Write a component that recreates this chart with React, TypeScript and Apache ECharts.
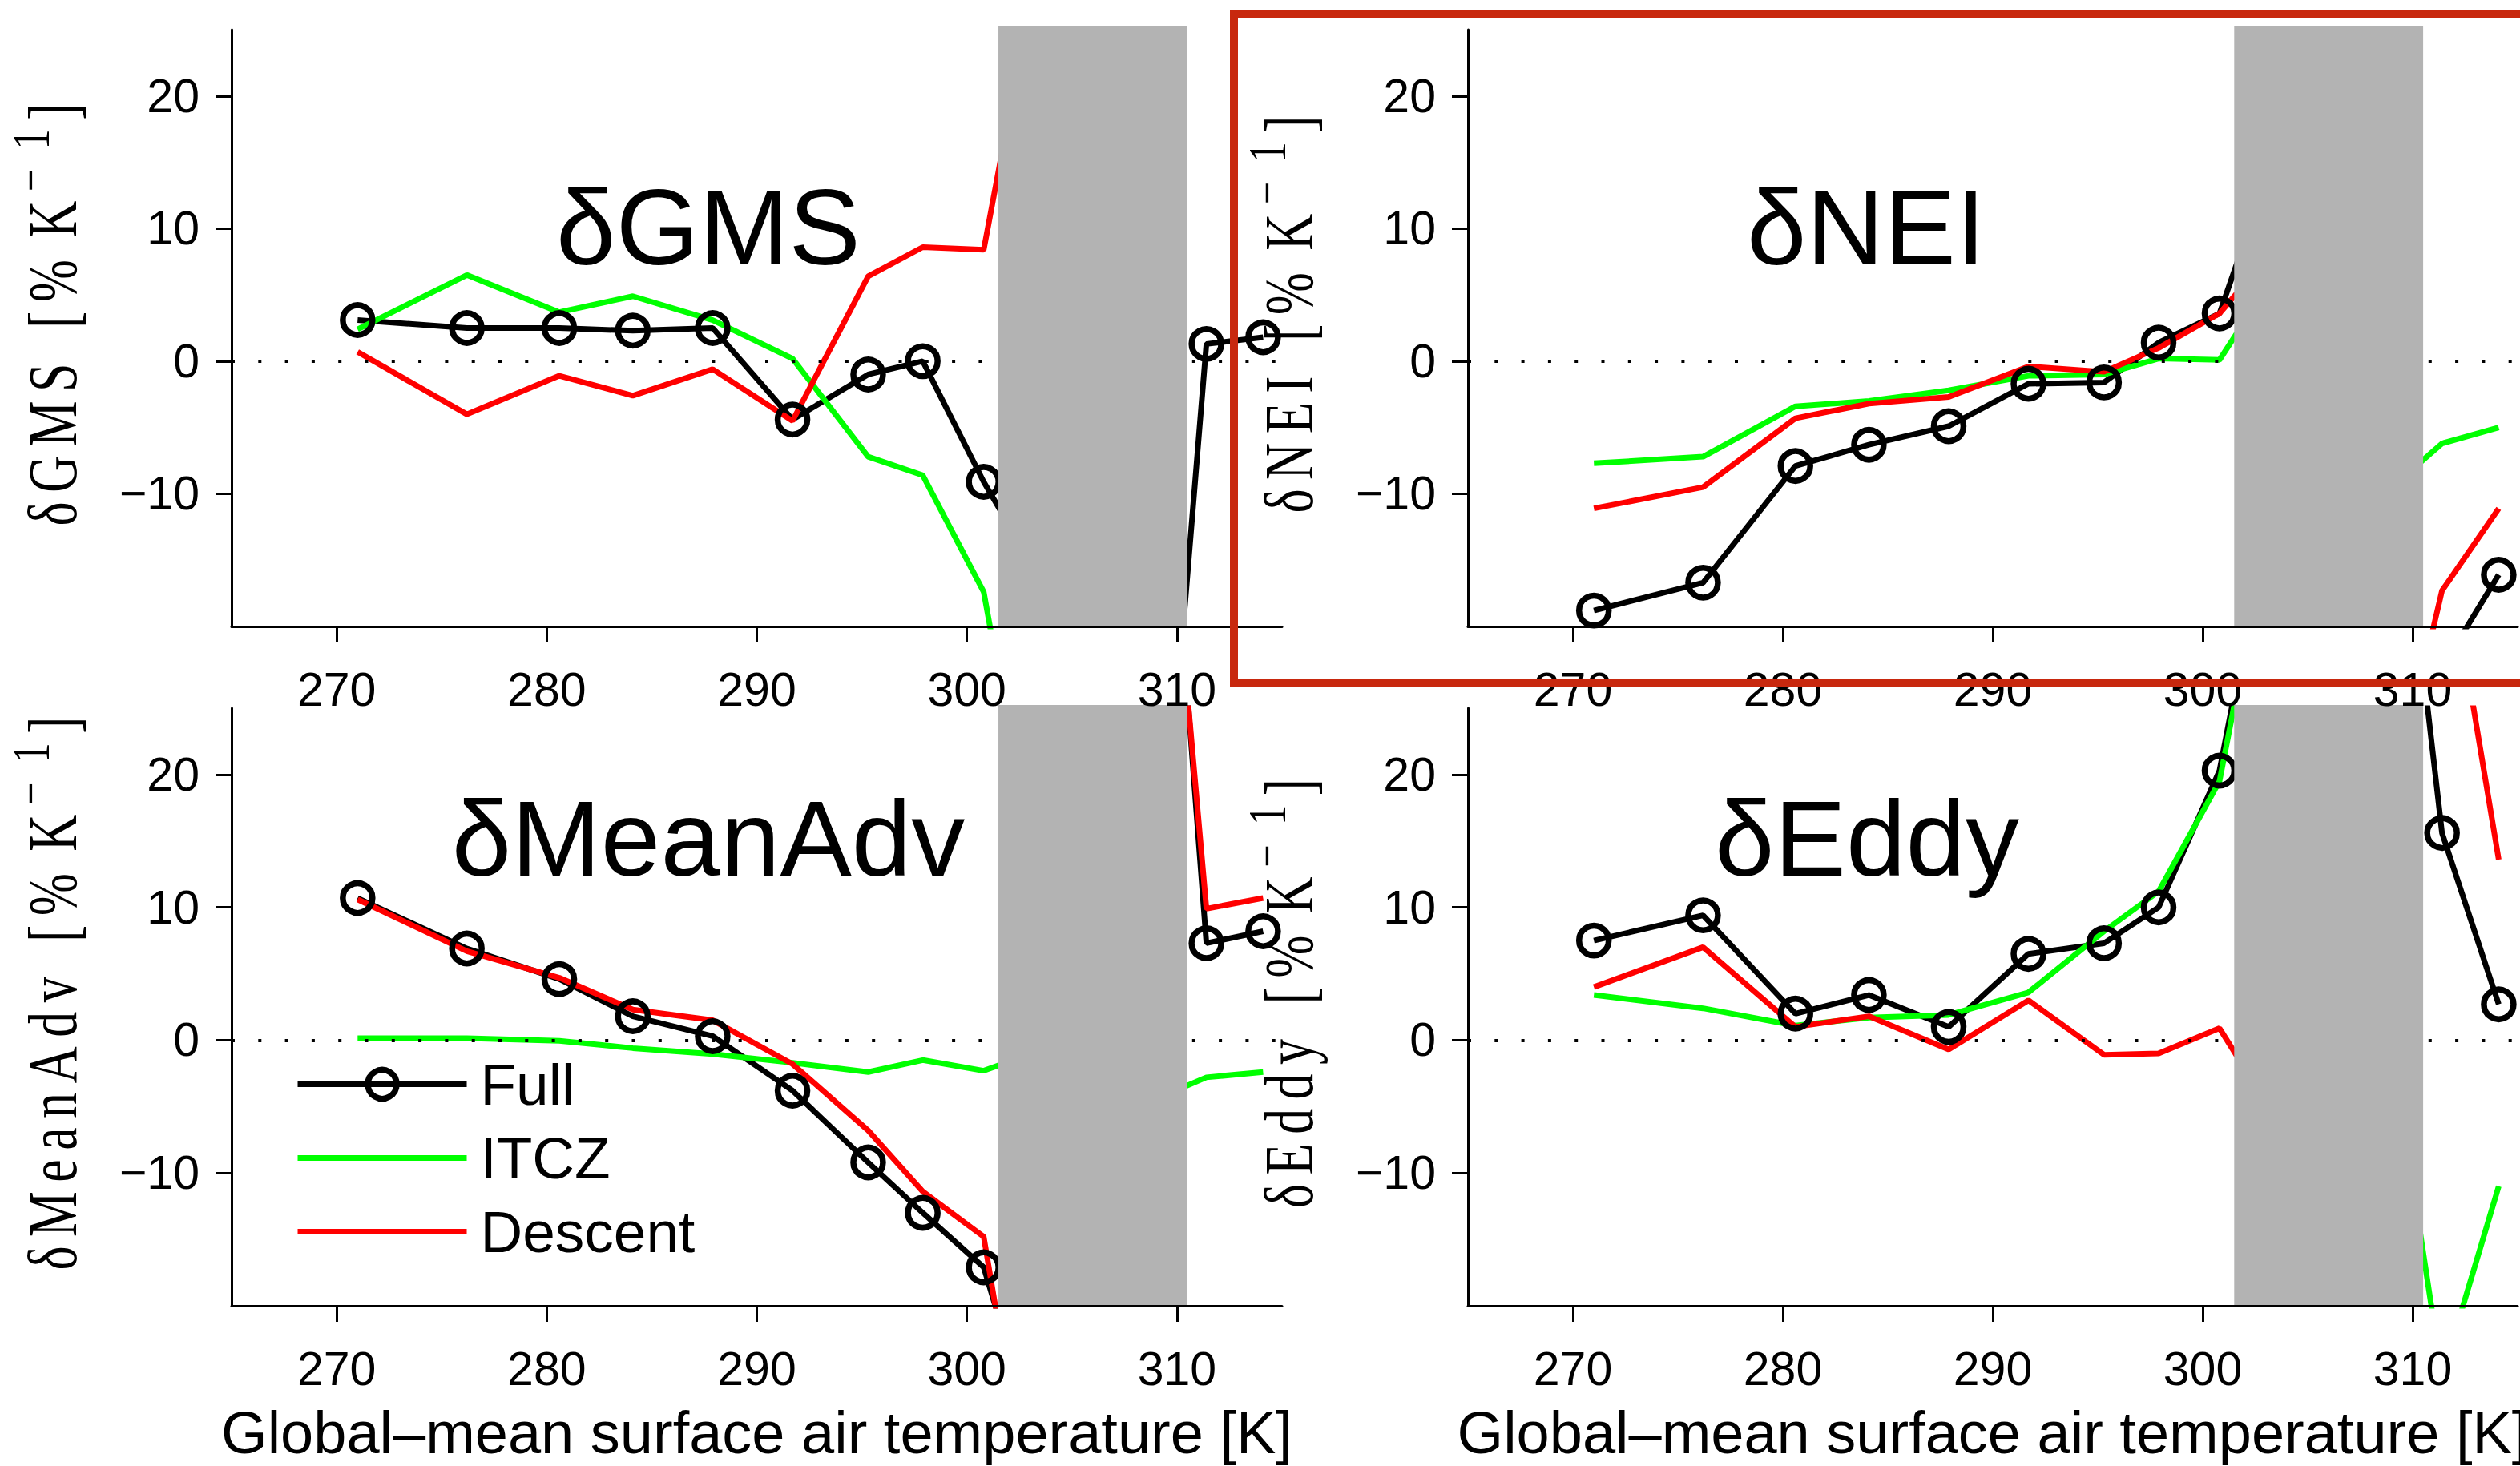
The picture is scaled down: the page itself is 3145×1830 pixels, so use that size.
import React, { useEffect, useRef } from "react";
import * as echarts from "echarts";

// Global-mean surface air temperature of each simulation [K]
const temperatureK = [271.0, 276.2, 280.6, 284.1, 287.9, 291.7, 295.3, 297.9, 300.8, 304.0, 308.0, 311.4, 314.1];

// Fractional changes [% K^-1]; null = no value
const gmsFull = [3.1, 2.5, 2.5, 2.3, 2.5, -4.4, -1.0, 0.0, -9.1, -17.8, -64.4, 1.3, 1.8];
const gmsItcz = [2.4, 6.5, 3.7, 4.9, 3.1, 0.2, -7.2, -8.6, -17.4, -45.3, null, null, null];
const gmsDescent = [0.7, -4.0, -1.1, -2.6, -0.6, -4.5, 6.4, 8.6, 8.4, 35.4, null, null, null];

const neiFull = [-18.8, -16.7, -7.9, -6.3, -4.9, -1.7, -1.6, 1.4, 3.6, 18.2, -30.0, -23.1, -16.1];
const neiItcz = [-7.7, -7.2, -3.4, -3.0, -2.2, -1.1, -1.0, 0.2, 0.1, 7.9, -10.9, -6.2, -5.0];
const neiDescent = [-11.1, -9.5, -4.3, -3.2, -2.7, -0.4, -0.8, 1.0, 3.6, 9.5, -40.3, -17.3, -11.1];

const meanAdvFull = [10.7, 6.9, 4.6, 1.8, 0.3, -3.8, -9.2, -13.0, -17.1, -34.0, 77.9, 7.3, 8.2];
const meanAdvItcz = [0.15, 0.15, -0.05, -0.6, -1.05, -1.7, -2.4, -1.5, -2.3, -0.5, -5.1, -2.8, -2.4];
const meanAdvDescent = [10.6, 6.7, 4.7, 2.3, 1.5, -1.8, -6.8, -11.4, -14.8, -45.0, 70.7, 9.9, 10.7];

const eddyFull = [7.5, 9.4, 2.0, 3.4, 1.0, 6.5, 7.3, 10.0, 20.3, 46.4, 62.4, 15.6, 2.7];
const eddyItcz = [3.4, 2.4, 1.1, 1.7, 1.9, 3.6, 8.2, 11.2, 19.5, 45.6, 10.0, -25.3, -11.0];
const eddyDescent = [4.0, 7.0, 1.0, 1.8, -0.7, 3.0, -1.1, -1.0, 0.9, -7.2, 45.0, 39.3, 13.6];

// Axis extents and tick labels
const xRange = [265, 315];
const yRange = [-20, 25];
const xTicks = [270, 280, 290, 300, 310];
const yTicks = [-10, 0, 10, 20];

// Temperature band masked in grey
const maskedBand = [301.5, 310.5];

const seriesNames = ["Full", "ITCZ", "Descent"];
const panelTerms = ["GMS", "NEI", "MeanAdv", "Eddy"];
const panelValues = [
  [gmsFull, gmsItcz, gmsDescent],
  [neiFull, neiItcz, neiDescent],
  [meanAdvFull, meanAdvItcz, meanAdvDescent],
  [eddyFull, eddyItcz, eddyDescent],
];

const SANS = "'Liberation Sans', Arial, Helvetica, sans-serif";
const SERIF = "'Liberation Serif', 'Times New Roman', serif";
const GREEN = "#00ff00";
const RED = "#ff0000";
const GREY = "#b3b3b3";

const grids = [
  { left: 289, top: 37, width: 1311, height: 745 },
  { left: 1832, top: 37, width: 1310, height: 745 },
  { left: 289, top: 884, width: 1311, height: 746 },
  { left: 1832, top: 884, width: 1310, height: 746 },
];
const titleCenters = [
  [884, 283],
  [2329, 283],
  [884, 1046],
  [2330, 1046],
];

const minusFmt = (v: number) => (v < 0 ? "\u2212" + Math.abs(v) : String(v));

function pairs(values: (number | null)[]) {
  return temperatureK.map((t, i) => [t, values[i] === null ? "-" : values[i]]);
}

// y-axis label, letter-spaced, with a raised "−1" exponent
const LABEL_SCALE = 0.744;
function yLabelText(term: string) {
  const chars = ("\u03b4" + term).split("").map((c) => `{c|${c}}`).join("");
  return chars + "{g|  }{c|[}{c|%}{w| }{c|K}{s|\u2212}{v| }{s|1}{c|]}";
}
const yLabelRich = {
  c: { fontFamily: SERIF, fontSize: 86, lineHeight: 104, verticalAlign: "bottom", align: "center", padding: [0, 7.7, 0, 7.7], fill: "#000" },
  s: { fontFamily: SERIF, fontSize: 68, lineHeight: 62, verticalAlign: "top", align: "center", padding: [0, 7.7, 0, 7.7], fill: "#000" },
  g: { fontFamily: SERIF, fontSize: 86, lineHeight: 104, verticalAlign: "bottom", align: "center", width: 43 },
  w: { fontFamily: SERIF, fontSize: 86, lineHeight: 104, verticalAlign: "bottom", align: "center", width: 21 },
  v: { fontFamily: SERIF, fontSize: 68, lineHeight: 62, verticalAlign: "top", align: "center", width: 17 },
};

function buildOption() {
  const xAxis: any[] = [];
  const yAxis: any[] = [];
  const series: any[] = [];
  const graphic: any[] = [];

  grids.forEach((g, p) => {
    const bottomRow = p >= 2;
    xAxis.push({
      type: "value",
      gridIndex: p,
      z: 12,
      min: xRange[0],
      max: xRange[1],
      name: bottomRow ? "Global\u2013mean surface air temperature [K]" : "",
      nameLocation: "middle",
      nameGap: 121,
      nameTextStyle: { fontFamily: SANS, fontSize: 74, color: "#000" },
      axisLine: { show: true, onZero: false, lineStyle: { color: "#000", width: 3 } },
      axisTick: { show: true, inside: false, length: 20, lineStyle: { color: "#000", width: 3 }, customValues: xTicks },
      axisLabel: { show: true, margin: 49, fontFamily: SANS, fontSize: 59, color: "#000", customValues: xTicks },
      splitLine: { show: false },
    });
    yAxis.push({
      type: "value",
      gridIndex: p,
      min: yRange[0],
      max: yRange[1],
      axisLine: { show: true, onZero: false, lineStyle: { color: "#000", width: 3 } },
      axisTick: { show: true, inside: false, length: 20, lineStyle: { color: "#000", width: 3 }, customValues: yTicks },
      axisLabel: {
        show: true,
        margin: 40,
        fontFamily: SANS,
        fontSize: 59,
        color: "#000",
        customValues: yTicks,
        formatter: minusFmt,
      },
      splitLine: { show: false },
    });

    const [full, itcz, descent] = panelValues[p];
    series.push({
      type: "line",
      name: seriesNames[0],
      xAxisIndex: p,
      yAxisIndex: p,
      data: pairs(full),
      symbol: "circle",
      symbolSize: 37,
      showSymbol: true,
      showAllSymbol: true,
      silent: true,
      lineStyle: { color: "#000", width: 7 },
      itemStyle: { color: "rgba(0,0,0,0)", borderColor: "#000", borderWidth: 7.5 },
      emphasis: { disabled: true },
      markLine: {
        silent: true,
        symbol: "none",
        label: { show: false },
        lineStyle: { color: "#000", width: 4, type: [4, 29.3] },
        emphasis: { disabled: true },
        data: [{ yAxis: 0 }],
      },
    });
    [
      [itcz, GREEN, seriesNames[1]],
      [descent, RED, seriesNames[2]],
    ].forEach(([vals, color, name]: any) => {
      series.push({
        type: "line",
        name,
        xAxisIndex: p,
        yAxisIndex: p,
        data: pairs(vals),
        symbol: "none",
        showSymbol: false,
        silent: true,
        lineStyle: { color, width: 7 },
        itemStyle: { color: "rgba(0,0,0,0)", borderColor: "rgba(0,0,0,0)" },
        emphasis: { disabled: true },
      });
    });
    // grey mask over the unreliable temperature range; the thin white strip
    // below it keeps line ends from peeking out under the x axis
    series.push({
      type: "custom",
      xAxisIndex: p,
      yAxisIndex: p,
      z: 10,
      silent: true,
      data: [[maskedBand[0], maskedBand[1]]],
      encode: { x: [0, 1] },
      renderItem: (params: any, api: any) => {
        const a = api.coord([api.value(0), yRange[1]]);
        const b = api.coord([api.value(1), yRange[0]]);
        const w = b[0] - a[0];
        return {
          type: "group",
          children: [
            { type: "rect", shape: { x: a[0], y: a[1] - 4, width: w, height: b[1] - a[1] + 4 }, style: { fill: GREY } },
            { type: "rect", shape: { x: a[0] - 1, y: b[1], width: w + 2, height: 6 }, style: { fill: "#ffffff" } },
          ],
        };
      },
    });

    // panel title
    graphic.push({
      type: "text",
      x: titleCenters[p][0],
      y: titleCenters[p][1],
      silent: true,
      style: {
        text: "\u03b4" + panelTerms[p],
        fontFamily: SANS,
        fontSize: 134,
        fill: "#000",
        align: "center",
        verticalAlign: "middle",
      },
    });
    // rotated y-axis label, e.g. δGMS [% K^-1]
    graphic.push({
      type: "text",
      x: g.left - 233,
      y: g.top + g.height / 2 - 17,
      rotation: Math.PI / 2,
      scaleX: LABEL_SCALE,
      scaleY: 1,
      silent: true,
      style: {
        text: yLabelText(panelTerms[p]),
        align: "center",
        verticalAlign: "middle",
        fill: "#000",
        rich: yLabelRich,
      },
    });
  });

  // highlight frame around the NEI panel
  graphic.push({
    type: "rect",
    z: 100,
    silent: true,
    shape: { x: 1540, y: 18, width: 1700, height: 835 },
    style: { fill: "none", stroke: "#c8280e", lineWidth: 10 },
  });

  return {
    animation: false,
    backgroundColor: "#ffffff",
    grid: grids.map((g) => ({ ...g, containLabel: false, outerBoundsMode: "none" })),
    xAxis,
    yAxis,
    legend: {
      data: seriesNames,
      orient: "vertical",
      left: 368,
      top: 1317,
      padding: 0,
      itemWidth: 211,
      itemHeight: 45,
      itemGap: 19,
      selectedMode: false,
      textStyle: { fontFamily: SANS, fontSize: 73, lineHeight: 73, color: "#000", padding: [0, 0, 0, 12] },
      lineStyle: { width: 7 },
      itemStyle: { borderWidth: 7.5 },
    },
    series,
    graphic,
  };
}

export default function App() {
  const ref = useRef<HTMLDivElement>(null);
  useEffect(() => {
    if (!ref.current) return;
    const chart = echarts.init(ref.current, null, { renderer: "svg" });
    chart.setOption(buildOption() as any);
    return () => chart.dispose();
  }, []);
  return (
    <div
      ref={ref}
      style={{ position: "fixed", left: 0, top: 0, width: 3145, height: 1830, background: "#fff" }}
    />
  );
}
